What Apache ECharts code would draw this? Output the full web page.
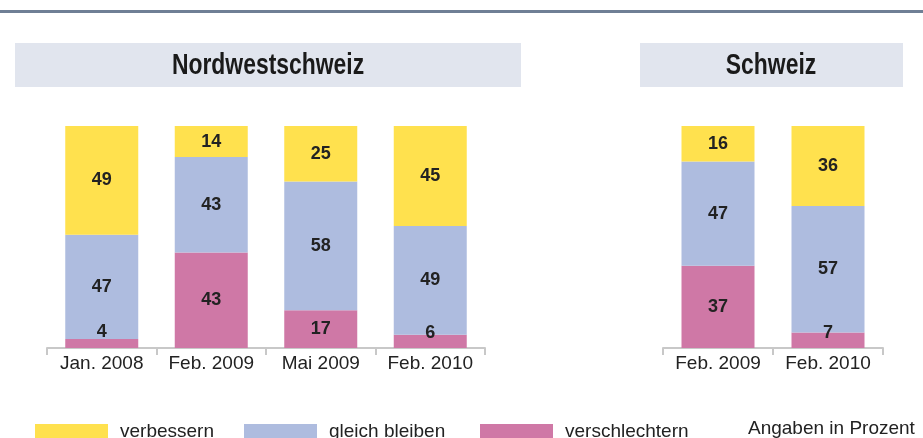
<!DOCTYPE html>
<html>
<head>
<meta charset="utf-8">
<script src="https://cdn.jsdelivr.net/npm/echarts@6/dist/echarts.min.js"></script>
<style>
  html, body { margin: 0; padding: 0; background: #fff; }
  #main { width: 923px; height: 438px; }
</style>
</head>
<body>
<div id="main"></div>
<script>
// Daten: Nordwestschweiz und Schweiz (Angaben in Prozent)
const nwCats = ['Jan. 2008', 'Feb. 2009', 'Mai 2009', 'Feb. 2010'];
const nwVerschlechtern = [4, 43, 17, 6];
const nwGleich = [47, 43, 58, 49];
const nwVerbessern = [49, 14, 25, 45];

const chCats = ['Feb. 2009', 'Feb. 2010'];
const chVerschlechtern = [37, 7];
const chGleich = [47, 57];
const chVerbessern = [16, 36];

const colors = {
  'verbessern': '#ffe14e',
  'gleich bleiben': '#aebcdf',
  'verschlechtern': '#cf78a6'
};

const font = 'Liberation Sans, Arial, sans-serif';

// kleine Werte: Beschriftung etwas nach oben schieben
function items(vals) {
  return vals.map(v => {
    if (v < 10) {
      return { value: v, label: { offset: [0, -(10 - v) * 1.6 - 2] } };
    }
    return v;
  });
}

function bar(name, data, idx) {
  return {
    name: name,
    type: 'bar',
    stack: 's' + idx,
    xAxisIndex: idx,
    yAxisIndex: idx,
    barWidth: 73,
    data: items(data),
    itemStyle: { color: colors[name] },
    label: {
      show: true,
      position: 'inside',
      color: '#222',
      fontFamily: font,
      fontWeight: 'bold',
      fontSize: 18
    },
    emphasis: { disabled: true }
  };
}

function xAxis(cats, idx) {
  return {
    type: 'category',
    gridIndex: idx,
    data: cats,
    axisLine: { lineStyle: { color: '#c8c8c8', width: 2 } },
    axisTick: { show: true, length: 7, lineStyle: { color: '#c8c8c8', width: 2 } },
    axisLabel: { color: '#222', fontSize: 19, fontFamily: font, margin: 6, interval: 0, hideOverlap: false }
  };
}

function yAxis(idx) {
  return { type: 'value', gridIndex: idx, min: 0, max: 100, show: false };
}

function legend(name, left) {
  return {
    data: [name],
    left: left,
    top: 422,
    padding: 0,
    itemWidth: 73,
    itemHeight: 15,
    icon: 'rect',
    selectedMode: false,
    textStyle: { color: '#222', fontSize: 19, fontFamily: font, padding: [0, 0, 0, 7] }
  };
}

const titleFont = 'bold 29px "Liberation Sans", Arial, sans-serif';

let chart = echarts.init(document.getElementById('main'));
chart.setOption({
  animation: false,
  graphic: [
    { type: 'rect', shape: { x: 0, y: 10, width: 923, height: 3 }, style: { fill: '#6f7f95' } },
    { type: 'rect', shape: { x: 15, y: 43, width: 506, height: 44 }, style: { fill: '#e1e5ee' } },
    { type: 'rect', shape: { x: 640, y: 43, width: 263, height: 44 }, style: { fill: '#e1e5ee' } },
    {
      type: 'text', x: 268, y: 66, scaleX: 0.79,
      style: { text: 'Nordwestschweiz', fill: '#1a1a1a', font: titleFont, align: 'center', verticalAlign: 'middle' }
    },
    {
      type: 'text', x: 771, y: 66, scaleX: 0.79,
      style: { text: 'Schweiz', fill: '#1a1a1a', font: titleFont, align: 'center', verticalAlign: 'middle' }
    },
    {
      type: 'text', x: 748, y: 429,
      style: { text: 'Angaben in Prozent', fill: '#222', font: '19px "Liberation Sans", Arial, sans-serif', verticalAlign: 'middle' }
    }
  ],
  legend: [
    legend('verbessern', 35),
    legend('gleich bleiben', 244),
    legend('verschlechtern', 480)
  ],
  grid: [
    { left: 47, right: 438, top: 126, bottom: 90 },
    { left: 663, right: 40, top: 126, bottom: 90 }
  ],
  xAxis: [xAxis(nwCats, 0), xAxis(chCats, 1)],
  yAxis: [yAxis(0), yAxis(1)],
  series: [
    bar('verschlechtern', nwVerschlechtern, 0),
    bar('gleich bleiben', nwGleich, 0),
    bar('verbessern', nwVerbessern, 0),
    bar('verschlechtern', chVerschlechtern, 1),
    bar('gleich bleiben', chGleich, 1),
    bar('verbessern', chVerbessern, 1)
  ]
});
</script>
</body>
</html>
